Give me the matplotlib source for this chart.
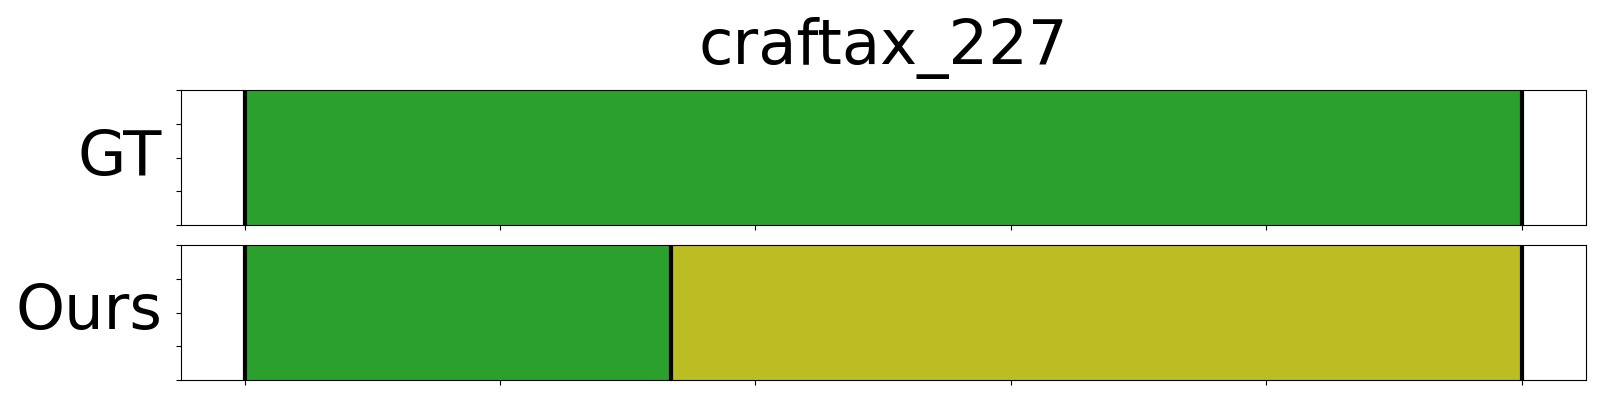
import numpy as np
import matplotlib
matplotlib.use("Agg")
import matplotlib.pyplot as plt

title = "craftax_227"
rows = ["GT", "Ours"]

# segment boundaries (frame positions) and segment colours per row
gt_bounds = [0, 100]
gt_colors = ["#2ca02c"]
ours_bounds = [0, 33.4, 100]
ours_colors = ["#2ca02c", "#bcbd22"]

segments = {"GT": (gt_bounds, gt_colors), "Ours": (ours_bounds, ours_colors)}

fig = plt.figure(figsize=(16, 4), dpi=100)
ax_top = fig.add_axes([0.113, 0.4375, 0.878, 0.3375])
ax_bot = fig.add_axes([0.113, 0.05, 0.878, 0.3375], sharex=ax_top)

for ax, name in zip([ax_top, ax_bot], rows):
    bounds, colors = segments[name]
    # fill each segment
    for start, end, c in zip(bounds[:-1], bounds[1:], colors):
        ax.axvspan(start, end, color=c, lw=0)
    # black separators at every boundary
    for b in bounds:
        ax.axvline(b, color="black", lw=3, zorder=3)
    ax.set_ylim(0, 1)
    ax.set_ylabel(name, rotation=0, ha="right", va="center", fontsize=45, labelpad=10)
    ax.tick_params(labelleft=False, labelbottom=False)

ax_top.set_xlim(gt_bounds[0] - 5, gt_bounds[-1] + 5)
ax_top.set_xticks(np.linspace(0, 100, 6))
ax_top.set_title(title, fontsize=45, pad=19)

fig.savefig("out.png", dpi=100)
